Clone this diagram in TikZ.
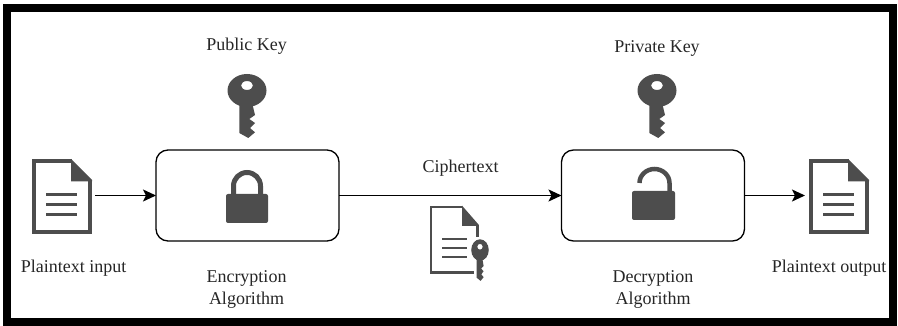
\documentclass[tikz,border=0pt]{standalone}
\usepackage{fontspec}
\setmainfont{Liberation Serif}
\usetikzlibrary{arrows.meta}
\definecolor{icon}{HTML}{4D4D4D}
\definecolor{ink}{HTML}{262626}
\tikzset{
  label text/.style={font=\fontsize{18}{21}\selectfont,text=ink,anchor=base,inner sep=0pt,outer sep=0pt},
  algobox/.style={draw=black,line width=1.3pt,rounded corners=12pt,minimum width=183pt,minimum height=91pt,inner sep=0pt,outer sep=0pt},
  holder/.style={inner sep=0pt,outer sep=0pt,minimum height=75pt},
  flow/.style={draw=black,line width=1.5pt,-{Stealth[length=13pt,width=12pt,inset=3pt]}},
  iconline/.style={draw=icon,line width=3pt},
  pics/keyicon/.style={code={
    \fill[icon,even odd rule] (0,0) ellipse [x radius=19.5,y radius=16.5] (0,-5) ellipse [x radius=6,y radius=4.5];
    \fill[icon] (-7.7,12) -- (-7.7,42.5) -- (1.3,47.5) -- (8,41.8) -- (3,37.5) -- (8,32.5) -- (2.3,28.5) -- (8,24.5) -- (5,12) -- cycle;
  }},
  pics/docicon/.style={code={
    \draw[draw=icon,line width=3.6pt,line join=miter] (40,1.8) -- (1.8,1.8) -- (1.8,73.2) -- (58.2,73.2) -- (58.2,21);
    \fill[icon] (39,0) -- (60,21) -- (60,22.5) -- (39,22.5) -- cycle;
    \draw[iconline] (14,36) -- (45,36) (14,46) -- (45,46) (14,56) -- (45,56);
  }}
}
\begin{document}
\begin{tikzpicture}[x=1pt,y=-1pt]
\useasboundingbox (0,0) rectangle (898,326);
\fill[white] (0,0) rectangle (898,326);
\draw[black,line width=8pt] (7,8) rectangle (893,321.5);

% main boxes
\node[algobox] (enc) at (247.5,195.5) {};
\node[algobox] (dec) at (653,195.5) {};

% document holders
\node[holder,minimum width=66pt] (plainin) at (62,195.5) {};
\node[holder,minimum width=66pt] (plainout) at (838,195.5) {};
\pic at (32,159) {docicon};
\pic at (809,159) {docicon};

% connectors
\draw[flow] (plainin.east) -- (enc.west);
\draw[flow] (enc.east) -- (dec.west);
\draw[flow] (dec.east) -- (plainout.west);

% keys
\pic at (247,90.5) {keyicon};
\pic at (657,90.5) {keyicon};

% closed lock
\fill[icon,rounded corners=2pt] (226,194) rectangle (268,223);
\draw[icon,line width=5pt] (233.5,196) -- (233.5,186) arc[start angle=180,end angle=360,x radius=13.5,y radius=13.5] -- (260.5,196);

% open lock
\fill[icon,rounded corners=2pt] (632,191) rectangle (675,220);
\draw[icon,line width=4.5pt] (639.5,183) arc[start angle=180,end angle=360,x radius=15,y radius=14] -- (669.5,193);

% ciphertext document
\draw[draw=icon,line width=2.8pt] (462,207) -- (431,207) -- (431,272.5) -- (474,272.5);
\draw[draw=icon,line width=2.8pt] (477.5,225) -- (477.5,237);
\fill[icon] (462,205.6) -- (478.9,225) -- (478.9,226) -- (462,226) -- cycle;
\draw[draw=icon,line width=2.8pt] (442,239) -- (467,239) (442,248) -- (467,248) (442,257) -- (467,257);
\pic[xscale=0.45,yscale=0.65] at (480,250) {keyicon};

% labels
\node[label text] (pub) at (246.5,51) {Public Key};
\node[label text] (priv) at (657,52.5) {Private Key};
\node[label text] (cipher) at (460.5,173) {Ciphertext};
\node[label text] (ptin) at (73.5,272.5) {Plaintext input};
\node[label text] (ptout) at (829,272.5) {Plaintext output};
\node[label text] (enc1) at (246.5,283) {Encryption};
\node[label text] (enc2) at (246.5,304) {Algorithm};
\node[label text] (dec1) at (653,283) {Decryption};
\node[label text] (dec2) at (653,304) {Algorithm};
\end{tikzpicture}
\end{document}
